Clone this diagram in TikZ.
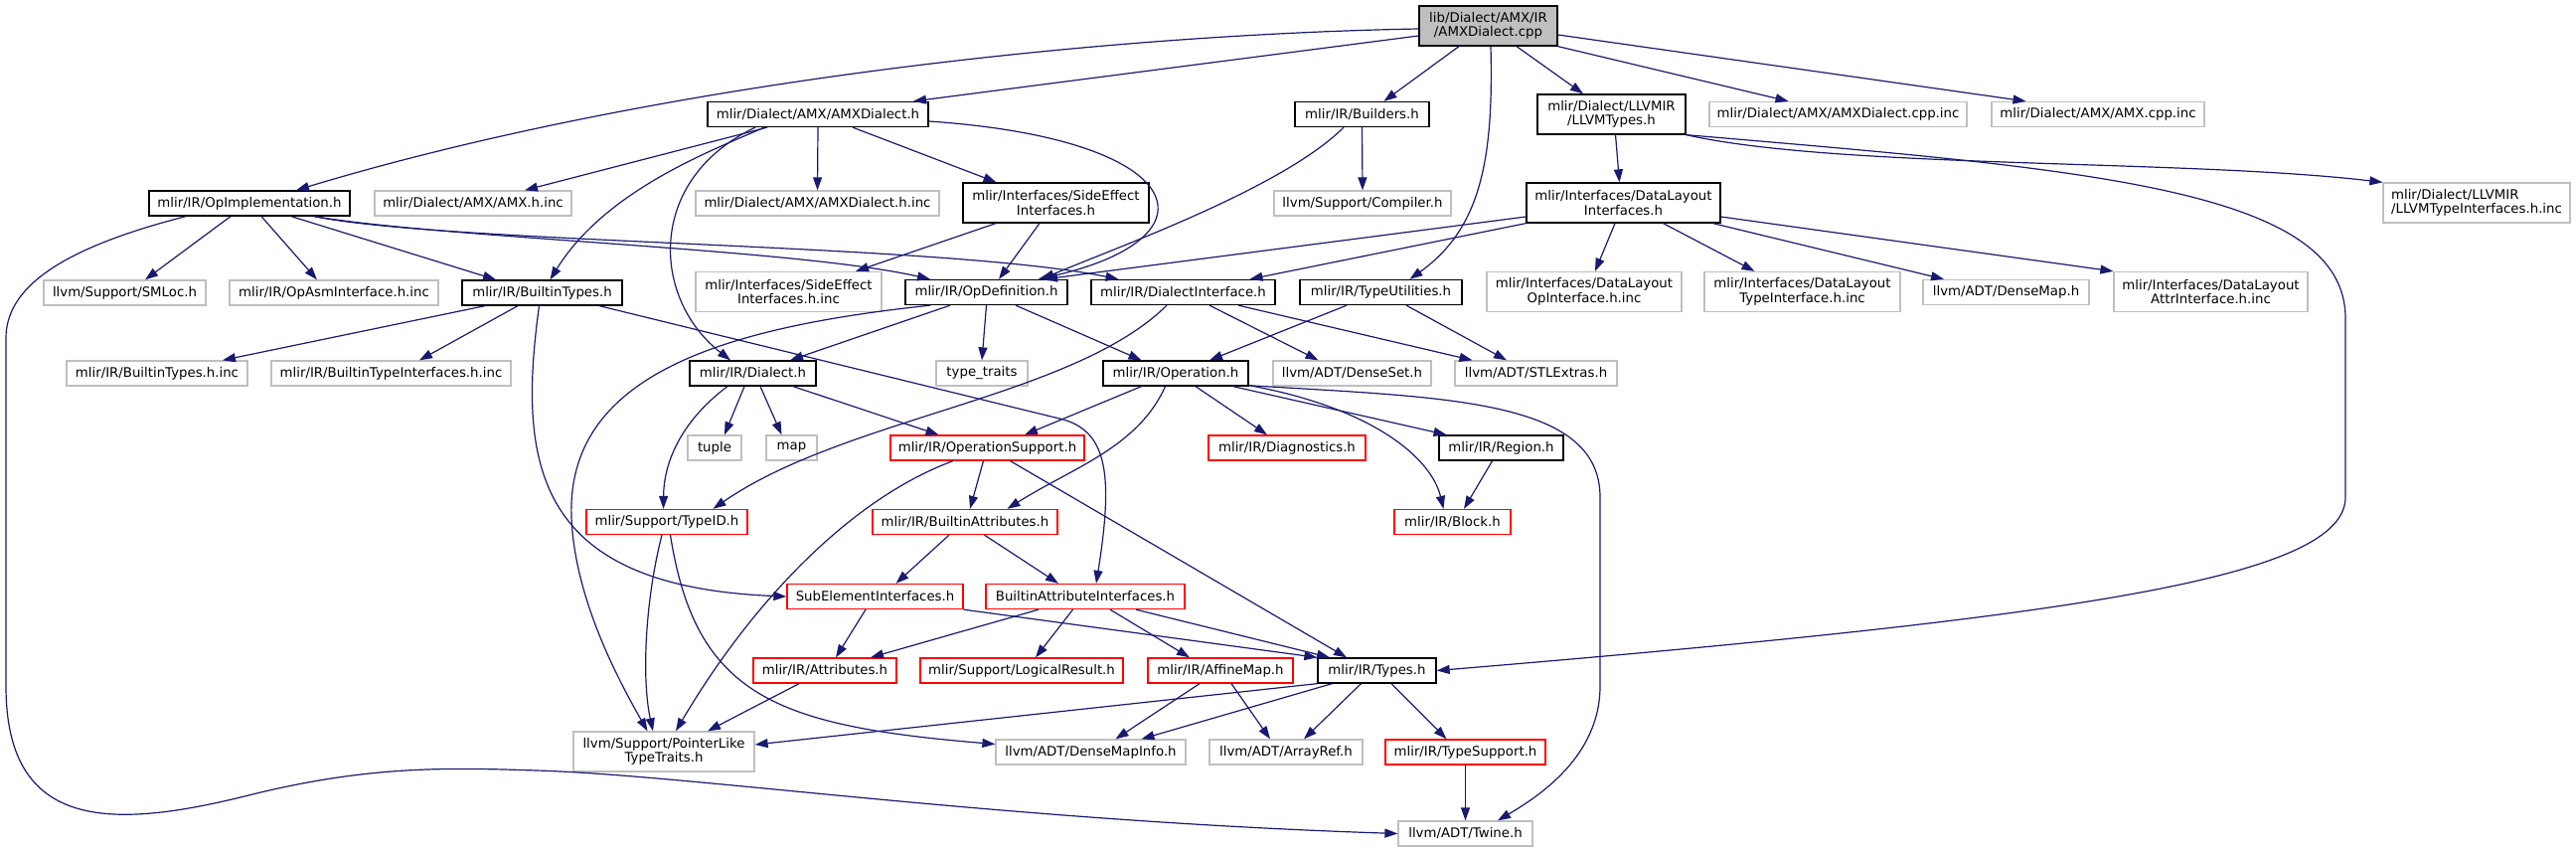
\documentclass[tikz,border=0pt]{standalone}
\usepackage{fontspec}
\setmainfont{DejaVu Sans}
\usetikzlibrary{arrows.meta}

\definecolor{edgeblue}{RGB}{25,25,112}
\definecolor{extgray}{RGB}{191,191,191}
\definecolor{truncred}{RGB}{255,0,0}

\begin{document}
\begin{tikzpicture}[
    x=1pt, y=-1pt,
    filebox/.style={rectangle, draw, line width=1.3pt, inner xsep=2pt, inner ysep=1pt, minimum height=25pt, align=center, font=\fontsize{13.3}{14.5}\selectfont},
    doc/.style={filebox, draw=black},
    ext/.style={filebox, draw=extgray},
    trunc/.style={filebox, draw=truncred},
    rootfile/.style={filebox, draw=black, fill=extgray, minimum height=40pt},
    inc/.style={draw=edgeblue, line width=1.2pt, -{Triangle[length=13pt, width=9pt]}}
]
\useasboundingbox (0,0) rectangle (2592,857);

% ============= FILES =============
\node[rootfile, minimum width=139pt] (root) at (1497.5,26) {lib/Dialect/AMX/IR\\/AMXDialect.cpp};

\node[doc, minimum width=222pt] (amxdh) at (823,115) {mlir/Dialect/AMX/AMXDialect.h};
\node[doc, minimum width=135pt] (builders) at (1370.5,115) {mlir/IR/Builders.h};
\node[doc, minimum width=149pt, minimum height=40pt] (llvmtypes) at (1621.5,115) {mlir/Dialect/LLVMIR\\/LLVMTypes.h};
\node[ext, minimum width=259pt] (amxdcppinc) at (1849.5,115) {mlir/Dialect/AMX/AMXDialect.cpp.inc};
\node[ext, minimum width=214pt] (amxcppinc) at (2111,115) {mlir/Dialect/AMX/AMX.cpp.inc};

\node[doc, minimum width=202pt] (opimpl) at (251,204.5) {mlir/IR/OpImplementation.h};
\node[ext, minimum width=198pt] (amxhinc) at (476,204.5) {mlir/Dialect/AMX/AMX.h.inc};
\node[ext, minimum width=245pt] (amxdhinc) at (822.5,204.5) {mlir/Dialect/AMX/AMXDialect.h.inc};
\node[doc, minimum width=187pt, minimum height=40pt] (seint) at (1062.5,204) {mlir/Interfaces/SideEffect\\Interfaces.h};
\node[ext, minimum width=178pt] (compiler) at (1371,204.5) {llvm/Support/Compiler.h};
\node[doc, minimum width=195pt, minimum height=40pt] (dlint) at (1633.5,204) {mlir/Interfaces/DataLayout\\Interfaces.h};
\node[ext, minimum width=188pt, minimum height=40pt, align=left] (llvmtiinc) at (2492,204) {mlir/Dialect/LLVMIR\\/LLVMTypeInterfaces.h.inc};

\node[ext, minimum width=163pt] (smloc) at (125.5,294.5) {llvm/Support/SMLoc.h};
\node[ext, minimum width=210pt] (opasm) at (336,294.5) {mlir/IR/OpAsmInterface.h.inc};
\node[doc, minimum width=161pt] (btypes) at (545.5,294.5) {mlir/IR/BuiltinTypes.h};
\node[ext, minimum width=187pt, minimum height=40pt] (seinc) at (793.5,293.5) {mlir/Interfaces/SideEffect\\Interfaces.h.inc};
\node[doc, minimum width=163pt] (opdef) at (992.5,294) {mlir/IR/OpDefinition.h};
\node[doc, minimum width=185pt] (dialint) at (1190.5,294) {mlir/IR/DialectInterface.h};
\node[doc, minimum width=163pt] (tyutil) at (1389.5,294) {mlir/IR/TypeUtilities.h};
\node[ext, minimum width=196pt, minimum height=40pt] (dlopinc) at (1594,293.5) {mlir/Interfaces/DataLayout\\OpInterface.h.inc};
\node[ext, minimum width=197pt, minimum height=40pt] (dltyinc) at (1813.5,293.5) {mlir/Interfaces/DataLayout\\TypeInterface.h.inc};
\node[ext, minimum width=167pt] (densemap) at (2018.5,294) {llvm/ADT/DenseMap.h};
\node[ext, minimum width=195pt, minimum height=40pt] (dlattrinc) at (2224.5,293.5) {mlir/Interfaces/DataLayout\\AttrInterface.h.inc};

\node[ext, minimum width=182pt] (btinc) at (158,375.5) {mlir/IR/BuiltinTypes.h.inc};
\node[ext, minimum width=241pt] (btiinc) at (393.5,375.5) {mlir/IR/BuiltinTypeInterfaces.h.inc};
\node[doc, minimum width=127pt] (dialect) at (757.5,375.5) {mlir/IR/Dialect.h};
\node[ext, minimum width=92pt] (typetraits) at (988,375.5) {type\_traits};
\node[doc, minimum width=146pt] (operation) at (1183,375.5) {mlir/IR/Operation.h};
\node[ext, minimum width=159pt] (denseset) at (1360.5,375.5) {llvm/ADT/DenseSet.h};
\node[ext, minimum width=163pt] (stlextras) at (1545.5,375.5) {llvm/ADT/STLExtras.h};

\node[ext, minimum width=54pt] (tuple) at (719,450.5) {tuple};
\node[ext, minimum width=51pt] (map) at (796.5,450.5) {map};
\node[trunc, minimum width=195pt] (opsupport) at (993.5,450.5) {mlir/IR/OperationSupport.h};
\node[trunc, minimum width=158pt] (diag) at (1295,450.5) {mlir/IR/Diagnostics.h};
\node[doc, minimum width=125pt] (region) at (1510.5,450.5) {mlir/IR/Region.h};

\node[trunc, minimum width=162pt] (typeid) at (671,525) {mlir/Support/TypeID.h};
\node[trunc, minimum width=186pt] (battrs) at (971,525) {mlir/IR/BuiltinAttributes.h};
\node[trunc, minimum width=117pt] (block) at (1461.5,525) {mlir/IR/Block.h};

\node[trunc, minimum width=177pt] (subelem) at (880.5,600) {SubElementInterfaces.h};
\node[trunc, minimum width=200pt] (baiface) at (1092,600) {BuiltinAttributeInterfaces.h};

\node[trunc, minimum width=144pt] (attrs) at (830,674.5) {mlir/IR/Attributes.h};
\node[trunc, minimum width=204pt] (logres) at (1028,674.5) {mlir/Support/LogicalResult.h};
\node[trunc, minimum width=146pt] (affine) at (1228,674.5) {mlir/IR/AffineMap.h};
\node[doc, minimum width=119pt] (types) at (1385.5,674.5) {mlir/IR/Types.h};

\node[ext, minimum width=182pt, minimum height=40pt] (ptrlike) at (668,756) {llvm/Support/PointerLike\\TypeTraits.h};
\node[ext, minimum width=191pt] (dmapinfo) at (1097.5,756.5) {llvm/ADT/DenseMapInfo.h};
\node[ext, minimum width=154pt] (arrayref) at (1294,756.5) {llvm/ADT/ArrayRef.h};
\node[trunc, minimum width=161pt] (tysupport) at (1474.5,756.5) {mlir/IR/TypeSupport.h};

\node[ext, minimum width=135pt] (twine) at (1474.5,838.5) {llvm/ADT/Twine.h};

% ============= INCLUDES =============
% root
\draw[inc] ([yshift=-3pt]root.west) .. controls (1100,35) and (650,85) .. ([xshift=47pt]opimpl.north);
\draw[inc] ([yshift=-10pt]root.west) -- ([xshift=96pt]amxdh.north);
\draw[inc] ([xshift=-29.5pt]root.south) -- ([xshift=22pt]builders.north);
\draw[inc] ([xshift=2.5pt]root.south) .. controls (1503,160) and (1490,230) .. ([xshift=29pt]tyutil.north);
\draw[inc] ([xshift=28.5pt]root.south) -- ([xshift=-28.5pt]llvmtypes.north);
\draw[inc] (root.south east) -- ([xshift=-50pt]amxdcppinc.north);
\draw[inc] ([yshift=-9pt]root.east) -- ([xshift=-72.5pt]amxcppinc.north);

% AMXDialect.h
\draw[inc] ([xshift=-51pt]amxdh.south) -- ([xshift=52pt]amxhinc.north);
\draw[inc] (amxdh.south) -- (amxdhinc.north);
\draw[inc] ([xshift=35pt]amxdh.south) -- ([xshift=-60pt]seint.north);
\draw[inc] ([xshift=-54pt]amxdh.south) .. controls (720,150) and (610,190) .. ([xshift=8pt]btypes.north);
\draw[inc] ([xshift=-63pt]amxdh.south) .. controls (650,180) and (655,300) .. ([xshift=-22.5pt]dialect.north);
\draw[inc] ([yshift=-7pt]amxdh.east) .. controls (1200,140) and (1230,240) .. ([xshift=52pt]opdef.north);

% Builders.h
\draw[inc] ([xshift=-18.5pt]builders.south) .. controls (1290,190) and (1120,250) .. ([xshift=55.5pt]opdef.north);
\draw[inc] (builders.south) -- (compiler.north);

% LLVMTypes.h
\draw[inc] ([xshift=4pt]llvmtypes.south) -- ([xshift=-4pt]dlint.north);
\draw[inc] (llvmtypes.south east) .. controls (1850,170) and (2200,160) .. (llvmtiinc.north west);
\draw[inc] (llvmtypes.south east) .. controls (2100,170) and (2360,190) .. (2360,320) -- (2360,500) .. controls (2360,580) and (2100,620) .. (types.east);

% DataLayoutInterfaces.h
\draw[inc] ([yshift=-14pt]dlint.west) -- ([xshift=58.5pt]opdef.north);
\draw[inc] (dlint.south west) -- ([xshift=67pt]dialint.north);
\draw[inc] ([xshift=-8.5pt]dlint.south) -- ([xshift=11pt]dlopinc.north);
\draw[inc] ([xshift=40pt]dlint.south) -- ([xshift=-48pt]dltyinc.north);
\draw[inc] ([xshift=-8pt]dlint.south east) -- ([xshift=-62.5pt]densemap.north);
\draw[inc] ([yshift=-14pt]dlint.east) -- (dlattrinc.north west);

% SideEffectInterfaces.h
\draw[inc] ([xshift=-60.5pt]seint.south) -- ([xshift=67.5pt]seinc.north);
\draw[inc] ([xshift=-16.5pt]seint.south) -- ([xshift=12.5pt]opdef.north);

% OpImplementation.h
\draw[inc] ([xshift=-19pt]opimpl.south) -- ([xshift=20.5pt]smloc.north);
\draw[inc] ([xshift=12pt]opimpl.south) -- ([xshift=-17pt]opasm.north);
\draw[inc] ([xshift=42pt]opimpl.south) -- ([xshift=-46.5pt]btypes.north);
\draw[inc] ([xshift=65pt]opimpl.south) .. controls (450,240) and (800,250) .. ([xshift=-56.5pt]opdef.north);
\draw[inc] ([xshift=65pt]opimpl.south) .. controls (450,245) and (950,245) .. ([xshift=-65pt]dialint.north);
\draw[inc] ([xshift=-64pt]opimpl.south) .. controls (60,250) and (6,290) .. (6,340) -- (6,690)
    .. controls (6,835) and (110,835) .. (250,800) .. controls (370,770) and (450,772) .. (540,775)
    .. controls (700,780) and (1000,825) .. (twine.west);

% BuiltinTypes.h
\draw[inc] ([xshift=-57.5pt]btypes.south) -- ([xshift=66pt]btinc.north);
\draw[inc] ([xshift=-24.5pt]btypes.south) -- ([xshift=28.5pt]btiinc.north);
\draw[inc] ([xshift=-3pt]btypes.south) .. controls (520,470) and (540,590) .. (subelem.west);
\draw[inc] ([xshift=57.5pt]btypes.south) -- (1070,422) .. controls (1115,435) and (1120,480) .. ([xshift=11pt]baiface.north);

% OpDefinition.h
\draw[inc] ([xshift=-36.5pt]opdef.south) -- ([xshift=37.5pt]dialect.north);
\draw[inc] (opdef.south) -- (typetraits.north);
\draw[inc] ([xshift=29.5pt]opdef.south) -- ([xshift=-34.5pt]operation.north);
\draw[inc] ([xshift=-56.5pt]opdef.south) .. controls (720,330) and (570,380) .. (575,520) .. controls (578,600) and (620,680) .. ([xshift=-16.5pt]ptrlike.north);

% DialectInterface.h
\draw[inc] ([xshift=-16.5pt]dialint.south) .. controls (1080,400) and (850,420) .. ([xshift=46.5pt]typeid.north);
\draw[inc] ([xshift=26.5pt]dialint.south) -- ([xshift=-34pt]denseset.north);
\draw[inc] ([xshift=55.5pt]dialint.south) -- ([xshift=-64pt]stlextras.north);

% TypeUtilities.h
\draw[inc] ([xshift=-34.5pt]tyutil.south) -- ([xshift=34pt]operation.north);
\draw[inc] ([xshift=25.5pt]tyutil.south) -- ([xshift=-29.5pt]stlextras.north);

% Dialect.h
\draw[inc] ([xshift=-25.5pt]dialect.south) .. controls (690,420) and (668,460) .. ([xshift=-3.5pt]typeid.north);
\draw[inc] ([xshift=-8.5pt]dialect.south) -- ([xshift=10pt]tuple.north);
\draw[inc] ([xshift=7.5pt]dialect.south) -- ([xshift=-10pt]map.north);
\draw[inc] ([xshift=40.5pt]dialect.south) -- ([xshift=-49pt]opsupport.north);

% Operation.h
\draw[inc] ([xshift=-34.5pt]operation.south) -- ([xshift=37.5pt]opsupport.north);
\draw[inc] ([xshift=-10.5pt]operation.south) .. controls (1145,450) and (1080,470) .. ([xshift=42.5pt]battrs.north);
\draw[inc] ([xshift=20pt]operation.south) -- ([xshift=-20pt]diag.north);
\draw[inc] ([xshift=-16pt]operation.south east) -- ([xshift=-55pt]region.north);
\draw[inc] ([yshift=1pt]operation.south east) .. controls (1380,410) and (1440,460) .. ([xshift=-9pt]block.north);
\draw[inc] ([yshift=1pt]operation.south east) .. controls (1450,400) and (1610,400) .. (1610,500) -- (1610,690)
    .. controls (1610,760) and (1550,800) .. ([xshift=32.5pt]twine.north);

% Region.h
\draw[inc] ([xshift=-9pt]region.south) -- ([xshift=11.5pt]block.north);

% OperationSupport.h
\draw[inc] ([xshift=-4pt]opsupport.south) -- ([xshift=5pt]battrs.north);
\draw[inc] ([xshift=-34.5pt]opsupport.south) .. controls (860,500) and (760,600) .. ([xshift=12pt]ptrlike.north);
\draw[inc] ([xshift=23pt]opsupport.south) -- ([xshift=-30.5pt]types.north);

% BuiltinAttributes.h
\draw[inc] ([xshift=-16pt]battrs.south) -- ([xshift=21pt]subelem.north);
\draw[inc] ([xshift=19.5pt]battrs.south) -- ([xshift=-27pt]baiface.north);

% TypeID.h
\draw[inc] ([xshift=-5pt]typeid.south) .. controls (650,600) and (645,680) .. ([xshift=-11pt]ptrlike.north);
\draw[inc] ([xshift=3.5pt]typeid.south) .. controls (700,700) and (780,730) .. ([yshift=8pt]dmapinfo.west);

% SubElementInterfaces.h
\draw[inc] ([xshift=-9.5pt]subelem.south) -- ([xshift=11pt]attrs.north);
\draw[inc] (subelem.south east) -- (types.north west);

% BuiltinAttributeInterfaces.h
\draw[inc] ([xshift=-47pt]baiface.south) -- ([xshift=46pt]attrs.north);
\draw[inc] ([xshift=-12.5pt]baiface.south) -- ([xshift=14pt]logres.north);
\draw[inc] ([xshift=25pt]baiface.south) -- ([xshift=-31pt]affine.north);
\draw[inc] ([xshift=51pt]baiface.south) -- ([xshift=-47.5pt]types.north);

% Attributes.h
\draw[inc] ([xshift=-26pt]attrs.south) -- ([xshift=44pt]ptrlike.north);

% Types.h
\draw[inc] (types.south west) -- ([yshift=7pt]ptrlike.east);
\draw[inc] ([xshift=15pt]types.south west) -- ([xshift=51pt]dmapinfo.north);
\draw[inc] ([xshift=-16pt]types.south) -- ([xshift=18pt]arrayref.north);
\draw[inc] ([xshift=14.5pt]types.south) -- ([xshift=-19pt]tysupport.north);

% AffineMap.h
\draw[inc] ([xshift=-21pt]affine.south) -- ([xshift=25pt]dmapinfo.north);
\draw[inc] ([xshift=11pt]affine.south) -- ([xshift=-16pt]arrayref.north);

% TypeSupport.h
\draw[inc] (tysupport.south) -- (twine.north);

\end{tikzpicture}
\end{document}
